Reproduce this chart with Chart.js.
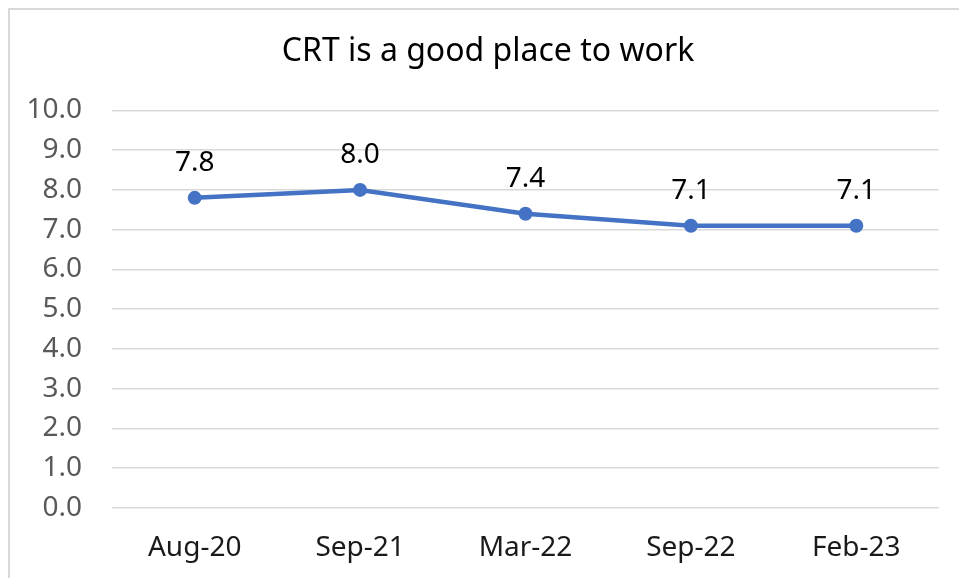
<!DOCTYPE html>
<html>
<head>
<meta charset="utf-8">
<script src="https://cdn.jsdelivr.net/npm/chart.js@4"></script>
<style>
  html, body { margin: 0; padding: 0; background: #fff; overflow: hidden; }
  #wrap { width: 975px; height: 578px; }
</style>
</head>
<body>
<div id="wrap"><canvas id="chart" width="975" height="578"></canvas></div>
<script>
const kategorien = ["Aug-20", "Sep-21", "Mar-22", "Sep-22", "Feb-23"];
const werte = [7.8, 8.0, 7.4, 7.1, 7.1];
const titel = "CRT is a good place to work";
const yMin = 0, yMax = 10, yStep = 1;

const schrift = "'Noto Sans', 'Open Sans', sans-serif";
const blau = "#4472C4";

// Rahmen um das Diagramm (rechts und unten ausserhalb des Bildes)
const rahmen = {
  id: "rahmen",
  beforeDraw(chart) {
    const ctx = chart.ctx;
    ctx.save();
    ctx.fillStyle = "#fff";
    ctx.fillRect(0, 0, chart.width, chart.height);
    ctx.strokeStyle = "#d9d9d9";
    ctx.lineWidth = 2;
    ctx.strokeRect(9, 9, 1200, 1200);
    ctx.restore();
  },
  // Titel wie in Excel auf den Rahmen zentrieren
  afterLayout(chart) {
    if (chart.titleBlock) chart.titleBlock.left = 37;
  }
};

// Werte ueber den Punkten
const wertBeschriftung = {
  id: "wertBeschriftung",
  afterDatasetsDraw(chart) {
    const ctx = chart.ctx;
    const meta = chart.getDatasetMeta(0);
    ctx.save();
    ctx.font = "28px " + schrift;
    ctx.fillStyle = "#000";
    ctx.textAlign = "center";
    ctx.textBaseline = "middle";
    meta.data.forEach((pt, i) => {
      ctx.fillText(werte[i].toFixed(1), pt.x, pt.y - 35);
    });
    ctx.restore();
  }
};

new Chart(document.getElementById("chart"), {
  type: "line",
  data: {
    labels: kategorien,
    datasets: [{
      data: werte,
      borderColor: blau,
      backgroundColor: blau,
      borderWidth: 4.5,
      pointRadius: 7,
      pointBorderWidth: 0,
      pointBackgroundColor: blau,
      tension: 0
    }]
  },
  options: {
    responsive: false,
    animation: false,
    layout: { padding: { left: 0, right: 36, top: 0, bottom: 0 } },
    plugins: {
      legend: { display: false },
      tooltip: { enabled: false },
      title: {
        display: true,
        text: titel,
        color: "#000",
        font: { family: schrift, size: 32, weight: "normal", lineHeight: 1.2 },
        padding: { top: 33, bottom: 39 }
      }
    },
    scales: {
      x: {
        offset: true,
        grid: { display: false, drawTicks: false },
        border: { display: false },
        ticks: {
          color: "#1a1a1a",
          padding: 23,
          maxRotation: 0,
          font: { family: schrift, size: 28, lineHeight: 1.2 }
        },
        afterFit(s) { s.height = 70; }
      },
      y: {
        min: yMin,
        max: yMax,
        grid: { color: "#d9d9d9", lineWidth: 1.5, drawTicks: false },
        border: { display: false },
        ticks: {
          stepSize: yStep,
          color: "#595959",
          padding: 30,
          font: { family: schrift, size: 28 },
          callback: v => v.toFixed(1)
        },
        afterFit(s) { s.width = 112; }
      }
    }
  },
  plugins: [rahmen, wertBeschriftung]
});
</script>
</body>
</html>
